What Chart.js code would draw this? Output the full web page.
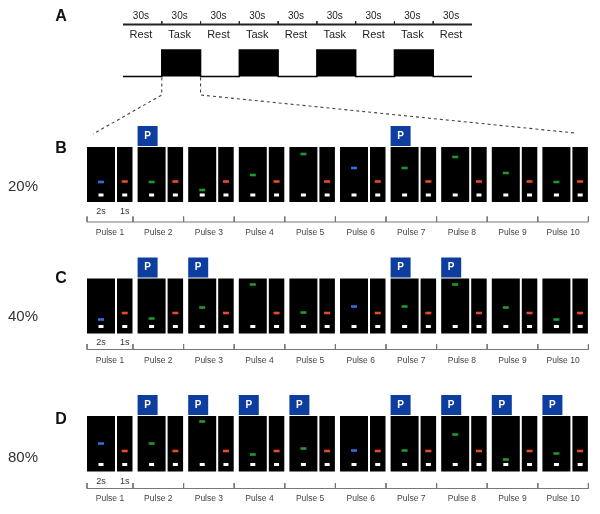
<!DOCTYPE html>
<html>
<head>
<meta charset="utf-8">
<script src="https://cdn.jsdelivr.net/npm/chart.js@4.4.1/dist/chart.umd.min.js"></script>
<style>
  html, body { margin: 0; padding: 0; background: #fff; }
  #wrap { position: relative; width: 600px; height: 514px; }
</style>
</head>
<body>
<div id="wrap"><canvas id="chart"></canvas></div>
<script>
// ---- data ----
const blockPhases = ["Rest", "Task", "Rest", "Task", "Rest", "Task", "Rest", "Task", "Rest"];
const blockDurations = ["30s", "30s", "30s", "30s", "30s", "30s", "30s", "30s", "30s"];
const pulseLabels = ["Pulse 1", "Pulse 2", "Pulse 3", "Pulse 4", "Pulse 5",
                     "Pulse 6", "Pulse 7", "Pulse 8", "Pulse 9", "Pulse 10"];
const frameDurations = ["2s", "1s"];
const panelLetters = ["B", "C", "D"];
const conditions = ["20%", "40%", "80%"];
const blueCuePulses = [1, 6];

// height of the target mark above frame bottom, per pulse
const targetB = [20, 20, 12, 27, 48, 34, 34, 45, 29, 20];
const targetC = [14, 15, 26, 49, 21, 27, 27, 49, 26, 14];
const targetD = [28, 28, 50, 17, 23, 21, 21, 37, 12, 18];
const referenceLevel = 20.5;
const fixationLevel = 7;

// pulses carrying a "P" cue
const probeB = [2, 7];
const probeC = [2, 3, 7, 8];
const probeD = [2, 3, 4, 5, 7, 8, 9, 10];

const targetLevels = [targetB, targetC, targetD];
const probePulses = [probeB, probeC, probeD];

// ---- layout ----
const FONT = '"Liberation Sans", Arial, sans-serif';
const A = { x0: 123, x1: 472, lineY: 24.5, durY: 16, phaseY: 35, blockTop: 50, baseY: 76.5 };
const A_STEP = (A.x1 - A.x0) / blockPhases.length;
const PULSE_X0 = 87, PULSE_STEP = 50.6, BIG_W = 28, SMALL_OFF = 30, SMALL_W = 15.5;
const rows = [
  { top: 147,   bottom: 202,   axisY: 222,   letterY: 149, pctY: 187, secY: 211.5, pulseY: 232.5 },
  { top: 278.5, bottom: 333.5, axisY: 349.5, letterY: 279, pctY: 316.5, secY: 342.5, pulseY: 361 },
  { top: 416,   bottom: 471.5, axisY: 488.5, letterY: 420, pctY: 458, secY: 481.5, pulseY: 499 }
];
const BLUE = "#2f6fde", GREEN = "#1f9a33", RED = "#ea4a2c", PBLUE = "#0c3d9f";

const bigC = (i) => PULSE_X0 + i * PULSE_STEP + BIG_W / 2;
const smallC = (i) => PULSE_X0 + i * PULSE_STEP + SMALL_OFF + SMALL_W / 2;
const pulseEnd = (i) => PULSE_X0 + i * PULSE_STEP + SMALL_OFF + SMALL_W + 0.5;

// ---- build datasets ----
const bigFrames = [], smallFrames = [], probes = [], targets = [], targetColors = [],
      refs = [], fixations = [], axisLines = [], axisTicks = [];

rows.forEach((r, ri) => {
  const levels = targetLevels[ri];
  pulseLabels.forEach((_, i) => {
    bigFrames.push({ x: bigC(i), y: [r.top, r.bottom] });
    smallFrames.push({ x: smallC(i), y: [r.top, r.bottom] });
    const ty = r.bottom - levels[i];
    targets.push({ x: bigC(i), y: [ty - 1.3, ty + 1.3] });
    targetColors.push(blueCuePulses.includes(i + 1) ? BLUE : GREEN);
    const ry = r.bottom - referenceLevel;
    refs.push({ x: smallC(i), y: [ry - 1.3, ry + 1.3] });
    const fy = r.bottom - fixationLevel;
    fixations.push({ x: bigC(i), y: [fy - 1.5, fy + 1.5] });
    fixations.push({ x: smallC(i), y: [fy - 1.5, fy + 1.5] });
    if (probePulses[ri].includes(i + 1)) {
      probes.push({ x: PULSE_X0 + i * PULSE_STEP + 10, y: [r.top - 21, r.top - 1] });
    }
  });
  axisLines.push({ x: PULSE_X0, y: r.axisY }, { x: pulseEnd(pulseLabels.length - 1), y: r.axisY }, { x: PULSE_X0, y: null });
  const tickXs = [PULSE_X0].concat(pulseLabels.map((_, i) => pulseEnd(i)));
  tickXs.forEach((tx) => {
    axisTicks.push({ x: tx, y: r.axisY - 5.5 }, { x: tx, y: r.axisY }, { x: tx, y: null });
  });
});

// boxcar for panel A
const boxcar = blockPhases.map((p, i) => ({ x: A.x0 + i * A_STEP, y: p === "Task" ? A.blockTop : A.baseY }));
boxcar.push({ x: A.x1, y: blockPhases[blockPhases.length - 1] === "Task" ? A.blockTop : A.baseY });

const topTicks = [];
for (let i = 1; i < blockPhases.length; i++) {
  const tx = A.x0 + i * A_STEP;
  topTicks.push({ x: tx, y: A.lineY - 3.5 }, { x: tx, y: A.lineY }, { x: tx, y: null });
}

const firstTask = blockPhases.indexOf("Task");
const blockL = A.x0 + firstTask * A_STEP, blockR = blockL + A_STEP;
const connectLeft = [{ x: blockL, y: A.baseY + 1 }, { x: blockL, y: 95 }, { x: PULSE_X0 + 6, y: 134 }];
const connectRight = [{ x: blockR, y: A.baseY + 1 }, { x: blockR, y: 95 }, { x: 575, y: 133 }];

const barDefaults = { type: "bar", stack: "one", grouped: true, borderWidth: 0, inflateAmount: 0 };
const lineDefaults = { type: "line", pointRadius: 0, tension: 0, spanGaps: false, fill: false };

const textPlugin = {
  id: "diagramText",
  afterDatasetsDraw(chart) {
    const { ctx, scales: { x, y } } = chart;
    const put = (str, vx, vy, font, color, align) => {
      ctx.font = font;
      ctx.fillStyle = color;
      ctx.textAlign = align || "center";
      ctx.textBaseline = "middle";
      ctx.fillText(str, x.getPixelForValue(vx), y.getPixelForValue(vy));
    };
    ctx.save();
    put("A", 61, 17, "bold 16px " + FONT, "#111");
    blockPhases.forEach((p, i) => {
      const cx = A.x0 + (i + 0.5) * A_STEP - 1.5;
      put(blockDurations[i], cx, A.durY, "10px " + FONT, "#222");
      put(p, cx, A.phaseY, "11px " + FONT, "#222");
    });
    rows.forEach((r, ri) => {
      put(panelLetters[ri], 61, r.letterY, "bold 16px " + FONT, "#111");
      put(conditions[ri], 23, r.pctY, "15px " + FONT, "#333");
      put(frameDurations[0], bigC(0), r.secY, "9px " + FONT, "#333");
      put(frameDurations[1], smallC(0), r.secY, "9px " + FONT, "#333");
      const ticks = [PULSE_X0].concat(pulseLabels.map((_, i) => pulseEnd(i)));
      pulseLabels.forEach((lab, i) => {
        put(lab, (ticks[i] + ticks[i + 1]) / 2, r.pulseY, "8.5px " + FONT, "#444");
      });
      probePulses[ri].forEach((p) => {
        put("P", PULSE_X0 + (p - 1) * PULSE_STEP + 10, r.top - 11, "bold 10px " + FONT, "#fff");
      });
    });
    ctx.restore();
  }
};

new Chart(document.getElementById("chart"), {
  type: "bar",
  data: {
    datasets: [
      Object.assign({}, barDefaults, { data: targets, backgroundColor: targetColors, barThickness: 6, order: 1 }),
      Object.assign({}, barDefaults, { data: refs, backgroundColor: RED, barThickness: 6, order: 1 }),
      Object.assign({}, barDefaults, { data: fixations, backgroundColor: "#ffffff", barThickness: 5, order: 1 }),
      Object.assign({}, barDefaults, { data: probes, backgroundColor: PBLUE, barThickness: 20, order: 2 }),
      Object.assign({}, barDefaults, { data: bigFrames, backgroundColor: "#000", barThickness: BIG_W, order: 3 }),
      Object.assign({}, barDefaults, { data: smallFrames, backgroundColor: "#000", barThickness: SMALL_W, order: 3 }),
      Object.assign({}, lineDefaults, { data: boxcar, stepped: "before", borderColor: "#000", borderWidth: 1.5,
        backgroundColor: "#000", fill: { value: A.baseY }, order: 4 }),
      Object.assign({}, lineDefaults, { data: [{ x: A.x0, y: A.lineY }, { x: A.x1, y: A.lineY }], borderColor: "#222", borderWidth: 1.8, order: 4 }),
      Object.assign({}, lineDefaults, { data: topTicks, borderColor: "#333", borderWidth: 1, order: 4 }),
      Object.assign({}, lineDefaults, { data: connectLeft, borderColor: "#444", borderWidth: 1.1, borderDash: [3, 3], order: 4 }),
      Object.assign({}, lineDefaults, { data: connectRight, borderColor: "#444", borderWidth: 1.1, borderDash: [3, 3], order: 4 }),
      Object.assign({}, lineDefaults, { data: axisLines, borderColor: "#777", borderWidth: 1, order: 4 }),
      Object.assign({}, lineDefaults, { data: axisTicks, borderColor: "#777", borderWidth: 1, order: 4 })
    ]
  },
  options: {
    responsive: true,
    maintainAspectRatio: false,
    animation: false,
    events: [],
    layout: { padding: 0 },
    plugins: { legend: { display: false }, tooltip: { enabled: false } },
    scales: {
      x: { type: "linear", min: 0, max: 600, display: false, offset: false, grid: { offset: false } },
      y: { type: "linear", min: 0, max: 514, reverse: true, display: false, stacked: false, beginAtZero: false }
    }
  },
  plugins: [textPlugin]
});
</script>
</body>
</html>
